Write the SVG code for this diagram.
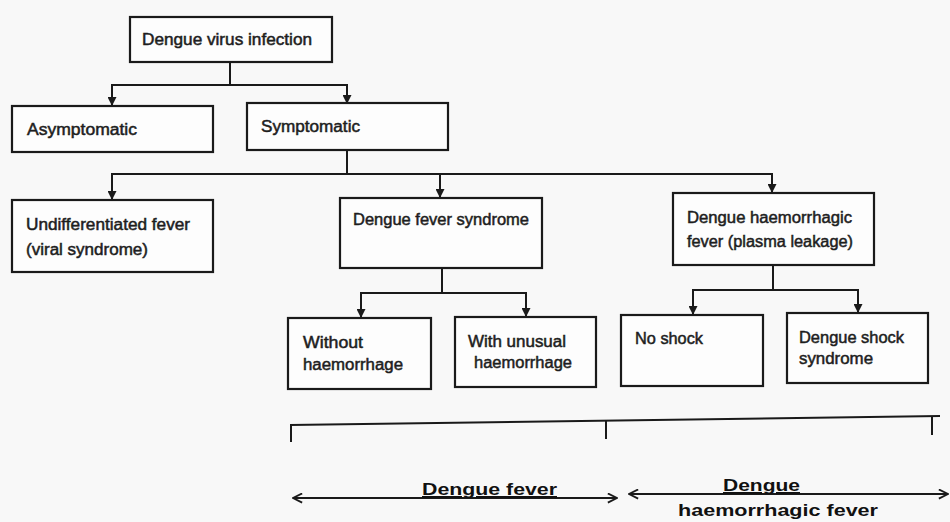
<svg xmlns="http://www.w3.org/2000/svg" width="950" height="522" viewBox="0 0 950 522">
  <defs>
    <marker id="tri" viewBox="0 0 10 10" refX="10" refY="5" markerWidth="10" markerHeight="9" markerUnits="userSpaceOnUse" orient="auto">
      <path d="M0,0 L10,5 L0,10 z" fill="#1a1a1a"/>
    </marker>
    <marker id="chev" viewBox="0 0 12 12" refX="11" refY="6" markerWidth="11" markerHeight="11" markerUnits="userSpaceOnUse" orient="auto-start-reverse">
      <path d="M1,1 L11,6 L1,11" fill="none" stroke="#1a1a1a" stroke-width="2"/>
    </marker>
  </defs>
  <style>
    .box { fill: #fdfdfd; stroke: #1a1a1a; stroke-width: 2.2; }
    .lbl { font-family: "Liberation Sans", Arial, sans-serif; font-size: 16px; fill: #1e1e1e; stroke: #1e1e1e; stroke-width: 0.5; }
    .con { fill: none; stroke: #1a1a1a; stroke-width: 2; }
    .big { font-family: "Liberation Sans", Arial, sans-serif; font-size: 17px; font-weight: bold; fill: #111; text-decoration: underline; }
    .plain { font-family: "Liberation Sans", Arial, sans-serif; font-size: 17px; font-weight: bold; fill: #111; }
  </style>
  <rect x="0" y="0" width="950" height="522" fill="#f8f8f8"/>

  <g id="connectors">
    <!-- Dengue virus infection -> Asymptomatic / Symptomatic -->
    <path class="con" d="M230,62 V85 M111,85 H348"/>
    <path class="con" d="M112,85 V106" marker-end="url(#tri)"/>
    <path class="con" d="M347,85 V104" marker-end="url(#tri)"/>
    <!-- Symptomatic -> three -->
    <path class="con" d="M347,150 V174 M111,174 H773"/>
    <path class="con" d="M112,174 V200" marker-end="url(#tri)"/>
    <path class="con" d="M440,174 V198" marker-end="url(#tri)"/>
    <path class="con" d="M772,174 V193" marker-end="url(#tri)"/>
    <!-- Dengue fever syndrome -> two -->
    <path class="con" d="M442,268 V293 M360,293 H527"/>
    <path class="con" d="M361,293 V318" marker-end="url(#tri)"/>
    <path class="con" d="M526,293 V317" marker-end="url(#tri)"/>
    <!-- DHF -> two -->
    <path class="con" d="M773,265 V290 M692,290 H859"/>
    <path class="con" d="M693,290 V315" marker-end="url(#tri)"/>
    <path class="con" d="M858,290 V313" marker-end="url(#tri)"/>
    <!-- bracket -->
    <path class="con" d="M290,425 L940,416"/>
    <path class="con" d="M291,424 V442 M606,421 V439 M932,417 V435"/>
    <!-- double arrows -->
    <path class="con" d="M293,498 H617" marker-start="url(#chev)" marker-end="url(#chev)"/>
    <path class="con" d="M629,494 H948" marker-start="url(#chev)" marker-end="url(#chev)"/>
  </g>

  <g id="n-infection">
    <rect class="box" x="130" y="17" width="202" height="45"/>
    <text class="lbl" x="142" y="45" textLength="170" lengthAdjust="spacingAndGlyphs">Dengue virus infection</text>
  </g>
  <g id="n-asymptomatic">
    <rect class="box" x="12" y="106" width="201" height="46"/>
    <text class="lbl" x="27" y="135" textLength="110" lengthAdjust="spacingAndGlyphs">Asymptomatic</text>
  </g>
  <g id="n-symptomatic">
    <rect class="box" x="247" y="103" width="201" height="47"/>
    <text class="lbl" x="261" y="132" textLength="99" lengthAdjust="spacingAndGlyphs">Symptomatic</text>
  </g>
  <g id="n-undiff">
    <rect class="box" x="12" y="200" width="201" height="72"/>
    <text class="lbl" x="26" y="230" textLength="164" lengthAdjust="spacingAndGlyphs">Undifferentiated fever</text>
    <text class="lbl" x="26" y="255" textLength="122" lengthAdjust="spacingAndGlyphs">(viral syndrome)</text>
  </g>
  <g id="n-dfs">
    <rect class="box" x="340" y="198" width="202" height="70"/>
    <text class="lbl" x="353" y="225" textLength="176" lengthAdjust="spacingAndGlyphs">Dengue fever syndrome</text>
  </g>
  <g id="n-dhf">
    <rect class="box" x="673" y="193" width="201" height="72"/>
    <text class="lbl" x="687" y="223" textLength="165" lengthAdjust="spacingAndGlyphs">Dengue haemorrhagic</text>
    <text class="lbl" x="687" y="247" textLength="166" lengthAdjust="spacingAndGlyphs">fever (plasma leakage)</text>
  </g>
  <g id="n-without">
    <rect class="box" x="288" y="318" width="143" height="71"/>
    <text class="lbl" x="303" y="348" textLength="60" lengthAdjust="spacingAndGlyphs">Without</text>
    <text class="lbl" x="303" y="370" textLength="100" lengthAdjust="spacingAndGlyphs">haemorrhage</text>
  </g>
  <g id="n-with">
    <rect class="box" x="455" y="317" width="141" height="70"/>
    <text class="lbl" x="468" y="347" textLength="98" lengthAdjust="spacingAndGlyphs">With unusual</text>
    <text class="lbl" x="474" y="368" textLength="98" lengthAdjust="spacingAndGlyphs">haemorrhage</text>
  </g>
  <g id="n-noshock">
    <rect class="box" x="621" y="315" width="142" height="71"/>
    <text class="lbl" x="635" y="344" textLength="68" lengthAdjust="spacingAndGlyphs">No shock</text>
  </g>
  <g id="n-dss">
    <rect class="box" x="787" y="313" width="141" height="70"/>
    <text class="lbl" x="799" y="343" textLength="105" lengthAdjust="spacingAndGlyphs">Dengue shock</text>
    <text class="lbl" x="799" y="364" textLength="74" lengthAdjust="spacingAndGlyphs">syndrome</text>
  </g>

  <g id="labels">
    <text class="big" x="422" y="495" textLength="135" lengthAdjust="spacingAndGlyphs">Dengue fever</text>
    <text class="big" x="723" y="491" textLength="77" lengthAdjust="spacingAndGlyphs">Dengue</text>
    <text class="plain" x="678" y="516" textLength="200" lengthAdjust="spacingAndGlyphs">haemorrhagic fever</text>
  </g>
</svg>
